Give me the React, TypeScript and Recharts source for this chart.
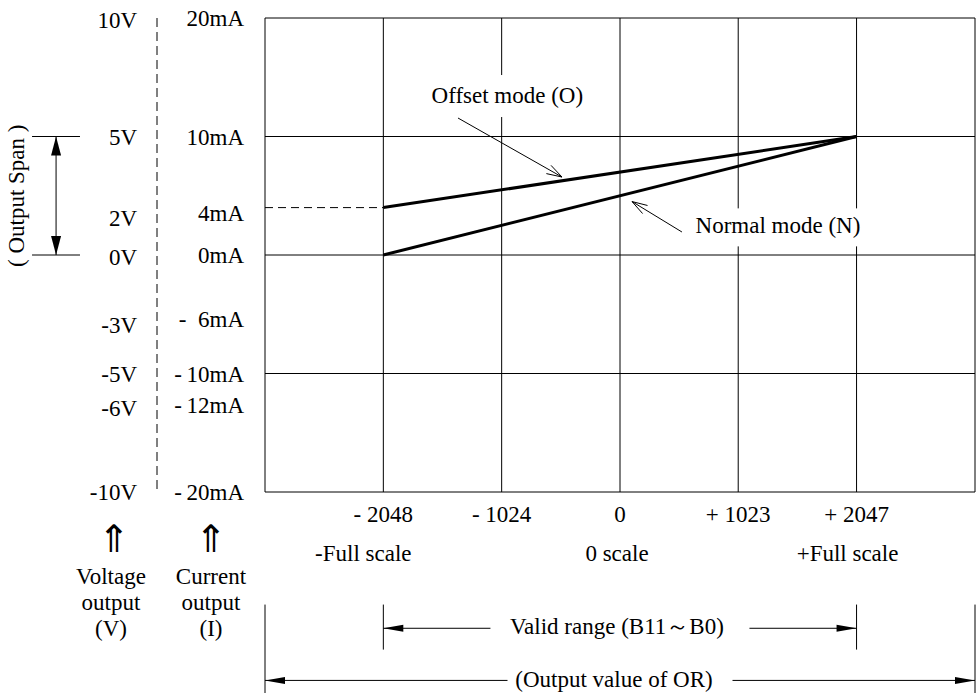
import React from 'react';
import { LineChart, Line, XAxis, YAxis, ReferenceLine, ReferenceDot } from 'recharts';

// ---------- data ----------
const codeValues = [-2048, 2047];
const offsetModeMA = [4, 10];
const normalModeMA = [0, 10];

const xTicks = [-2048, -1024, 0, 1023, 2047];
const xTickLabels = ['- 2048', '- 1024', '0', '+ 1023', '+ 2047'];
const scaleNames = ['-Full scale', '', '0 scale', '', '+Full scale'];

const currentTicks = [20, 10, 4, 0, -6, -10, -12, -20];
const currentTickLabels = ['20mA', '10mA', '4mA', '0mA', '-\u00a0\u00a06mA', '-\u200910mA', '-\u200912mA', '-\u200920mA'];
const voltageTicks = [10, 5, 2, 0, -3, -5, -6, -10];
const voltageTickLabels = ['10V', '5V', '2V', '0V', '-3V', '-5V', '-6V', '-10V'];

const xGrid = [-3072, -2048, -1024, 0, 1023, 2047, 3072];
const yGrid = [20, 10, 0, -10, -20];

const chartData = codeValues.map((c, i) => ({ code: c, offset: offsetModeMA[i], normal: normalModeMA[i] }));

// ---------- layout / style ----------
const X_DOMAIN: [number, number] = [-3072, 3072];
const SERIF = '"Liberation Serif", "Times New Roman", Times, serif';
const FS = 23;
const TXT = { fontFamily: SERIF, fontSize: FS, fill: '#000' };
const scaleDx = [-20, 0, -3, 0, -9];
const VOLT_LABEL_SHIFT = 107; // distance between current and voltage label columns
// small vertical nudges of tick labels (pixels), as laid out in the drawing
const currentLabelDy = [0, 0, 5, 0, -7, 0, 8, 0];
const voltageLabelDy = [2, 0, 10, 2, -1, 0, 11, 0];

// annotation anchors (data units)
const ANN = {
  spanX: -4880, spanTickL: -5088, spanTickR: -4673, spanTextX: -5220, spanTextY: 5,
  offTextX: -975, offTextY: 13.5, offTailX: -1402, offTailY: 11.56, offTipX: -502, offTipY: 6.58,
  norTextX: 1367, norTextY: 2.5, norTailX: 536, norTailY: 1.94, norTipX: 104, norTipY: 4.51,
  bracketTop: -29.5, validY: -31.5, validBottom: -33.3, outputY: -35.9, outputBottom: -37.2,
};

function filledHead(tx: number, ty: number, ux: number, uy: number, len: number, half: number) {
  const bx = tx - ux * len;
  const by = ty - uy * len;
  const px = -uy;
  const py = ux;
  return (
    <polygon
      points={`${tx},${ty} ${bx + px * half},${by + py * half} ${bx - px * half},${by - py * half}`}
      fill="#000"
    />
  );
}

function DimArrow(props: any) {
  const { x1, y1, x2, y2, text, textDx = 0, textDy = 7.5, gap = 0, len = 20, half = 4 } = props;
  const dx = x2 - x1;
  const dy = y2 - y1;
  const L = Math.hypot(dx, dy) || 1;
  const ux = dx / L;
  const uy = dy / L;
  const mx = (x1 + x2) / 2;
  const my = (y1 + y2) / 2;
  return (
    <g>
      <line x1={x1} y1={y1} x2={x2} y2={y2} stroke="#000" strokeWidth={1} />
      {filledHead(x1, y1, -ux, -uy, len, half)}
      {filledHead(x2, y2, ux, uy, len, half)}
      {text ? (
        <g>
          <rect x={mx - gap / 2} y={my - 12} width={gap} height={24} fill="#fff" />
          <text x={mx + textDx} y={my + textDy} textAnchor="middle" {...TXT}>{text}</text>
        </g>
      ) : null}
    </g>
  );
}

function Pointer(props: any) {
  const { x1, y1, x2, y2 } = props;
  const a = Math.atan2(y2 - y1, x2 - x1);
  const len = 16;
  const ang = 0.3;
  const p1 = `${x2 - len * Math.cos(a - ang)},${y2 - len * Math.sin(a - ang)}`;
  const p2 = `${x2 - len * Math.cos(a + ang)},${y2 - len * Math.sin(a + ang)}`;
  return (
    <g stroke="#000" strokeWidth={1} fill="none">
      <line x1={x1} y1={y1} x2={x2} y2={y2} />
      <polyline points={`${p1} ${x2},${y2} ${p2}`} />
    </g>
  );
}

function SegLine(props: any) {
  const { x1, y1, x2, y2, dash } = props;
  return <line x1={x1} y1={y1} x2={x2} y2={y2} stroke="#000" strokeWidth={1} strokeDasharray={dash} />;
}

const boxedText = (text: string, w: number, h: number, hOff = 0) => (props: any) => {
  const vb = props.viewBox || {};
  const cx = (vb.x || 0) + (vb.width || 0) / 2;
  const cy = (vb.y || 0) + (vb.height || 0) / 2;
  return (
    <g>
      <rect x={cx - w / 2} y={cy - h / 2 + hOff} width={w} height={h} fill="#fff" />
      <text x={cx} y={cy + FS * 0.34} textAnchor="middle" {...TXT}>{text}</text>
    </g>
  );
};

const rotatedText = (text: string) => (props: any) => {
  const vb = props.viewBox || {};
  const cx = (vb.x || 0) + (vb.width || 0) / 2;
  const cy = (vb.y || 0) + (vb.height || 0) / 2;
  return (
    <text
      x={cx}
      y={cy}
      transform={`rotate(-90 ${cx} ${cy})`}
      textAnchor="middle"
      dominantBaseline="central"
      {...TXT}
    >
      {text}
    </text>
  );
};

const axisCaption = (lines: string[], arrowDx: number) => (props: any) => {
  const vb = props.viewBox || {};
  const cx = (vb.x || 0) + (vb.width || 0) / 2;
  const bottom = (vb.y || 0) + (vb.height || 0);
  return (
    <g>
      <text
        x={cx + arrowDx}
        y={bottom + 60}
        textAnchor="middle"
        fontFamily='"Noto Sans CJK JP", "DejaVu Sans", sans-serif'
        fontSize={38}
        fill="#000"
      >
        {'\u21d1'}
      </text>
      {lines.map((l, i) => (
        <text key={i} x={cx} y={bottom + 92 + i * 26} textAnchor="middle" {...TXT}>{l}</text>
      ))}
    </g>
  );
};

function YTick(props: any) {
  const { x, y, payload } = props;
  const i = currentTicks.indexOf(payload.value);
  return (
    <g>
      <text x={x} y={y + currentLabelDy[i]} dy="0.355em" textAnchor="end" {...TXT}>{currentTickLabels[i]}</text>
      <text x={x - VOLT_LABEL_SHIFT} y={y + voltageLabelDy[i]} dy="0.355em" textAnchor="end" {...TXT}>
        {voltageTickLabels[i]}
      </text>
    </g>
  );
}

function XTick(props: any) {
  const { x, y, payload } = props;
  const i = xTicks.indexOf(payload.value);
  return (
    <g>
      <text x={x} y={y + 16} textAnchor="middle" {...TXT}>{xTickLabels[i]}</text>
      {scaleNames[i] ? (
        <text x={x + scaleDx[i]} y={y + 55} textAnchor="middle" {...TXT}>{scaleNames[i]}</text>
      ) : null}
    </g>
  );
}

export default function App() {
  return (
    <div style={{ position: 'absolute', left: 0, top: 0, width: 978, height: 693, background: '#fff' }}>
      <LineChart width={978} height={693} data={chartData} margin={{ top: 18, right: 3, bottom: 141, left: 65 }}>
        <XAxis
          type="number"
          dataKey="code"
          domain={X_DOMAIN}
          ticks={xTicks}
          interval={0}
          axisLine={false}
          tickLine={false}
          tickSize={0}
          tickMargin={14}
          height={60}
          tick={<XTick />}
        />
        <YAxis
          yAxisId="i"
          type="number"
          domain={[-20, 20]}
          ticks={currentTicks}
          interval={0}
          width={108}
          axisLine={false}
          tickLine={false}
          tickSize={0}
          tickMargin={21}
          tick={<YTick />}
          label={{ content: axisCaption(['Current', 'output', '(I)'], 0) }}
        />
        <YAxis
          yAxisId="v"
          type="number"
          domain={[-10, 10]}
          ticks={voltageTicks}
          interval={0}
          width={92}
          axisLine={{ stroke: '#000', strokeWidth: 1, strokeDasharray: '9 5' }}
          tickLine={false}
          tick={false}
          label={{ content: axisCaption(['Voltage', 'output', '(V)'], 3) }}
        />

        {/* grid & frame */}
        {xGrid.map((v) => (
          <ReferenceLine key={'gx' + v} x={v} yAxisId="i" stroke="#000" strokeWidth={1} ifOverflow="visible" />
        ))}
        {yGrid.map((v) => (
          <ReferenceLine key={'gy' + v} y={v} yAxisId="i" stroke="#000" strokeWidth={1} ifOverflow="visible" />
        ))}

        {/* 4mA dashed reference */}
        <ReferenceLine
          yAxisId="i"
          segment={[{ x: X_DOMAIN[0], y: offsetModeMA[0] }, { x: codeValues[0], y: offsetModeMA[0] }]}
          ifOverflow="visible"
          shape={(p: any) => <SegLine {...p} dash="8 5" />}
        />

        {/* output span bracket */}
        <ReferenceLine
          yAxisId="i"
          segment={[{ x: ANN.spanTickL, y: 10 }, { x: ANN.spanTickR, y: 10 }]}
          ifOverflow="visible"
          shape={(p: any) => <SegLine {...p} />}
        />
        <ReferenceLine
          yAxisId="i"
          segment={[{ x: ANN.spanTickL, y: 0 }, { x: ANN.spanTickR, y: 0 }]}
          ifOverflow="visible"
          shape={(p: any) => <SegLine {...p} />}
        />
        <ReferenceLine
          yAxisId="i"
          segment={[{ x: ANN.spanX, y: 10 }, { x: ANN.spanX, y: 0 }]}
          ifOverflow="visible"
          shape={(p: any) => <DimArrow {...p} len={19} half={5} />}
        />

        {/* bottom range brackets */}
        {[codeValues[0], codeValues[1]].map((v) => (
          <ReferenceLine
            key={'vb' + v}
            yAxisId="i"
            segment={[{ x: v, y: ANN.bracketTop }, { x: v, y: ANN.validBottom }]}
            ifOverflow="visible"
            shape={(p: any) => <SegLine {...p} />}
          />
        ))}
        {X_DOMAIN.map((v) => (
          <ReferenceLine
            key={'ob' + v}
            yAxisId="i"
            segment={[{ x: v, y: ANN.bracketTop }, { x: v, y: ANN.outputBottom }]}
            ifOverflow="visible"
            shape={(p: any) => <SegLine {...p} />}
          />
        ))}
        <ReferenceLine
          yAxisId="i"
          segment={[{ x: codeValues[0], y: ANN.validY }, { x: codeValues[1], y: ANN.validY }]}
          ifOverflow="visible"
          shape={(p: any) => (
            <DimArrow {...p} text={'Valid range (B11\uff5eB0)'} gap={259} textDx={-3} textDy={6} len={20} half={3.5} />
          )}
        />
        <ReferenceLine
          yAxisId="i"
          segment={[{ x: X_DOMAIN[0], y: ANN.outputY }, { x: X_DOMAIN[1], y: ANN.outputY }]}
          ifOverflow="visible"
          shape={(p: any) => (
            <DimArrow {...p} text="(Output value of OR)" gap={225} textDx={-6} textDy={7} len={20} half={3.5} />
          )}
        />

        {/* pointer arrows */}
        <ReferenceLine
          yAxisId="i"
          segment={[{ x: ANN.offTailX, y: ANN.offTailY }, { x: ANN.offTipX, y: ANN.offTipY }]}
          ifOverflow="visible"
          shape={(p: any) => <Pointer {...p} />}
        />
        <ReferenceLine
          yAxisId="i"
          segment={[{ x: ANN.norTailX, y: ANN.norTailY }, { x: ANN.norTipX, y: ANN.norTipY }]}
          ifOverflow="visible"
          shape={(p: any) => <Pointer {...p} />}
        />

        {/* series */}
        <Line
          yAxisId="i"
          type="linear"
          dataKey="offset"
          stroke="#000"
          strokeWidth={3}
          dot={false}
          activeDot={false}
          isAnimationActive={false}
        />
        <Line
          yAxisId="i"
          type="linear"
          dataKey="normal"
          stroke="#000"
          strokeWidth={3}
          dot={false}
          activeDot={false}
          isAnimationActive={false}
        />

        {/* text annotations */}
        <ReferenceDot
          yAxisId="i"
          x={ANN.offTextX}
          y={ANN.offTextY}
          r={0}
          fill="none"
          stroke="none"
          ifOverflow="visible"
          label={{ content: boxedText('Offset mode (O)', 166, 42, 1) }}
        />
        <ReferenceDot
          yAxisId="i"
          x={ANN.norTextX}
          y={ANN.norTextY}
          r={0}
          fill="none"
          stroke="none"
          ifOverflow="visible"
          label={{ content: boxedText('Normal mode (N)', 176, 38, 2) }}
        />
        <ReferenceDot
          yAxisId="i"
          x={ANN.spanTextX}
          y={ANN.spanTextY}
          r={0}
          fill="none"
          stroke="none"
          ifOverflow="visible"
          label={{ content: rotatedText('( Output Span )') }}
        />
      </LineChart>
    </div>
  );
}
